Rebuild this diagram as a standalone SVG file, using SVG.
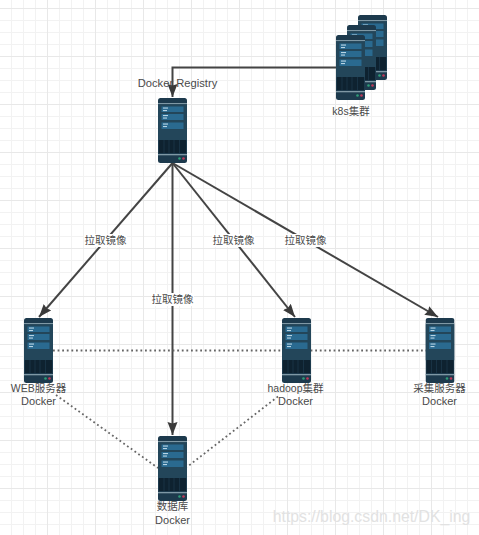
<svg xmlns="http://www.w3.org/2000/svg" width="479" height="535" viewBox="0 0 479 535">
<style>
text{font-family:"Liberation Sans","Noto Sans CJK SC",sans-serif;font-size:10.5px;fill:#4a4a4a;text-anchor:middle}
.l{fill:none;stroke:#444;stroke-width:2}
.d{fill:none;stroke:#666;stroke-width:1.800;stroke-dasharray:1.800 2.800}
.bg{fill:#fff;stroke:none}
.row{fill:#2a6a90}
.m{fill:#b8d4e4}
.sep{fill:#7f98a5}
</style>
<defs>
<pattern id="g" width="48" height="48" patternUnits="userSpaceOnUse" x="0" y="9">
<path d="M11.5 0V48M23.5 0V48M35.5 0V48M0 11.5H48M0 23.5H48M0 35.5H48" stroke="#f2f2f2" fill="none"/>
<path d="M47.5 0V48M0 47.5H48" stroke="#e8e8e8" fill="none"/>
</pattern>
<marker id="a" markerUnits="userSpaceOnUse" markerWidth="16" markerHeight="12" refX="13" refY="5" orient="auto"><path d="M0 0L13 5L0 10L1.500 5Z" fill="#3a3a3a"/></marker>
<symbol id="s" width="29" height="65" viewBox="0 0 29 65">
<rect width="29" height="65" rx="2.500" fill="#1d3a4d"/>
<rect class="sep" y="5" width="29" height="1.300"/>
<rect y="6.300" width="29" height="36" fill="#23465a"/>
<rect class="row" x="3.500" y="8.500" width="22" height="5.500"/>
<rect class="row" x="3.500" y="16" width="22" height="6"/>
<rect class="row" x="3.500" y="24.500" width="22" height="6.500"/>
<rect class="m" x="5" y="9.500" width="5" height="1.100"/>
<rect class="m" x="5" y="12" width="4" height="1.100"/>
<rect class="m" x="5" y="17" width="5" height="1.100"/>
<rect class="m" x="5" y="19.500" width="4" height="1.100"/>
<rect class="m" x="5" y="25.500" width="5" height="1.100"/>
<rect class="m" x="5" y="28" width="4" height="1.100"/>
<rect x="1" y="42" width="27" height="13" fill="#0e2230"/>
<path d="M6 42V55M11 42V55M16 42V55M21.500 42V55" stroke="#1d3a4d" stroke-width="0.700"/>
<rect class="sep" y="56" width="29" height="1.300"/>
<circle cx="21.500" cy="60.500" r="1.300" fill="#2f9d78"/>
<circle cx="25.500" cy="60.500" r="1.300" fill="#c0395a"/>
</symbol>
</defs>
<rect width="479" height="535" fill="#fff"/>
<rect width="479" height="535" fill="url(#g)"/>
<g id="connectors">
<path class="l" d="M336 67.500H172.500V97" marker-end="url(#a)"/>
<path class="l" d="M172.500 163L39 317" marker-end="url(#a)"/>
<path class="l" d="M172.500 163V435" marker-end="url(#a)"/>
<path class="l" d="M172.500 163L295 317" marker-end="url(#a)"/>
<path class="l" d="M172.500 163L438 317" marker-end="url(#a)"/>
<path class="d" d="M53 350.500H426"/>
<path class="d" d="M56 395L158 468"/>
<path class="d" d="M278 396.500L187 467"/>
</g>
<g id="edge-labels">
<rect class="bg" x="84" y="234" width="43" height="13"/><text x="105.500" y="244">拉取镜像</text>
<rect class="bg" x="151" y="293" width="43" height="13"/><text x="172.500" y="303">拉取镜像</text>
<rect class="bg" x="212" y="234" width="43" height="13"/><text x="233.500" y="244">拉取镜像</text>
<rect class="bg" x="284" y="234" width="43" height="13"/><text x="305.500" y="244">拉取镜像</text>
</g>
<g id="k8s"><use href="#s" x="358" y="15"/><use href="#s" x="347" y="25"/><use href="#s" x="336" y="35"/><text x="351" y="115">k8s集群</text></g>
<g id="registry"><use href="#s" x="158" y="98"/><text x="177.500" y="87" style="font-size:11.200px">Docker Registry</text></g>
<g id="web"><use href="#s" x="24" y="318"/><text x="38.500" y="391.500">WEB服务器</text><text x="38.500" y="404.500" style="font-size:11px">Docker</text></g>
<g id="hadoop"><use href="#s" x="282" y="318"/><text x="295.500" y="391.500">hadoop集群</text><text x="295.500" y="404.500" style="font-size:11px">Docker</text></g>
<g id="collector"><use href="#s" x="425.500" y="318"/><text x="439.500" y="391.500">采集服务器</text><text x="439.500" y="404.500" style="font-size:11px">Docker</text></g>
<g id="database"><use href="#s" x="158" y="436"/><text x="172.500" y="510">数据库</text><text x="172.500" y="523.500" style="font-size:11px">Docker</text></g>
<text x="371.500" y="521.500" style="font-size:15.800px;fill:#e2e2e2">https://blog.csdn.net/DK_ing</text>
</svg>
